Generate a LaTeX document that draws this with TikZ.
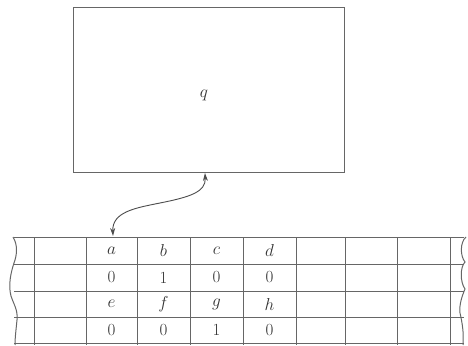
\documentclass[tikz,border=0pt]{standalone}
\usetikzlibrary{arrows.meta}
\begin{document}
\begin{tikzpicture}[x=1pt,y=-1pt,
  ln/.style={draw=black!60,line width=1pt},
  lbl/.style={text=black!80,font=\fontsize{17}{19}\selectfont,inner sep=0pt},
  conn/.style={draw=black!70,line width=0.9pt,{Stealth[length=8pt,width=5pt]}-{Stealth[length=8pt,width=5pt]}}]
\useasboundingbox (0,0) rectangle (468,345);
% control box
\node[ln,minimum width=271pt,minimum height=164pt,inner sep=0pt] (box) at (208.5,90) {};
\node[lbl] (q) at (204,95) {$q$};
% tape horizontal lines
\foreach \y in {237,264,291,317,343} \draw[ln] (14,\y) -- (464,\y);
% vertical lines
\foreach \x in {34,86,137,190,243,296,345,397,450} \draw[ln] (\x,237) -- (\x,345);
% wavy edges
\draw[ln] (13,237) .. controls (18,245) and (17,255) .. (14,263)
  .. controls (11,272) and (8,285) .. (11,296)
  .. controls (14,305) and (18,310) .. (17,320)
  .. controls (16,330) and (15,338) .. (15,345);
\draw[ln] (466,237) .. controls (460,242) and (460,256) .. (465,262)
  .. controls (460,267) and (460,282) .. (465,289)
  .. controls (462,296) and (459,305) .. (460,313)
  .. controls (462,322) and (464,332) .. (463,345);
% cell labels
\node[lbl] (a) at (111.5,250.5) {$a$};
\node[lbl] (b) at (163.5,250.5) {$b$};
\node[lbl] (c) at (216.5,250.5) {$c$};
\node[lbl] (d) at (269.5,250.5) {$d$};
\node[lbl] (v1) at (111.5,277.5) {0};
\node[lbl] (v2) at (163.5,277.5) {1};
\node[lbl] (v3) at (216.5,277.5) {0};
\node[lbl] (v4) at (269.5,277.5) {0};
\node[lbl] (e) at (111.5,304) {$e$};
\node[lbl] (f) at (163.5,304) {$f$};
\node[lbl] (g) at (216.5,304) {$g$};
\node[lbl] (h) at (269.5,304) {$h$};
\node[lbl] (w1) at (111.5,330) {0};
\node[lbl] (w2) at (163.5,330) {0};
\node[lbl] (w3) at (216.5,330) {1};
\node[lbl] (w4) at (269.5,330) {0};
% head connector
\coordinate (head) at (113,236);
\coordinate (port) at (205,173);
\draw[conn] (head) .. controls (112,212) and (135,208) .. (160,203)
  .. controls (190,197) and (206,192) .. (port);
\end{tikzpicture}
\end{document}
